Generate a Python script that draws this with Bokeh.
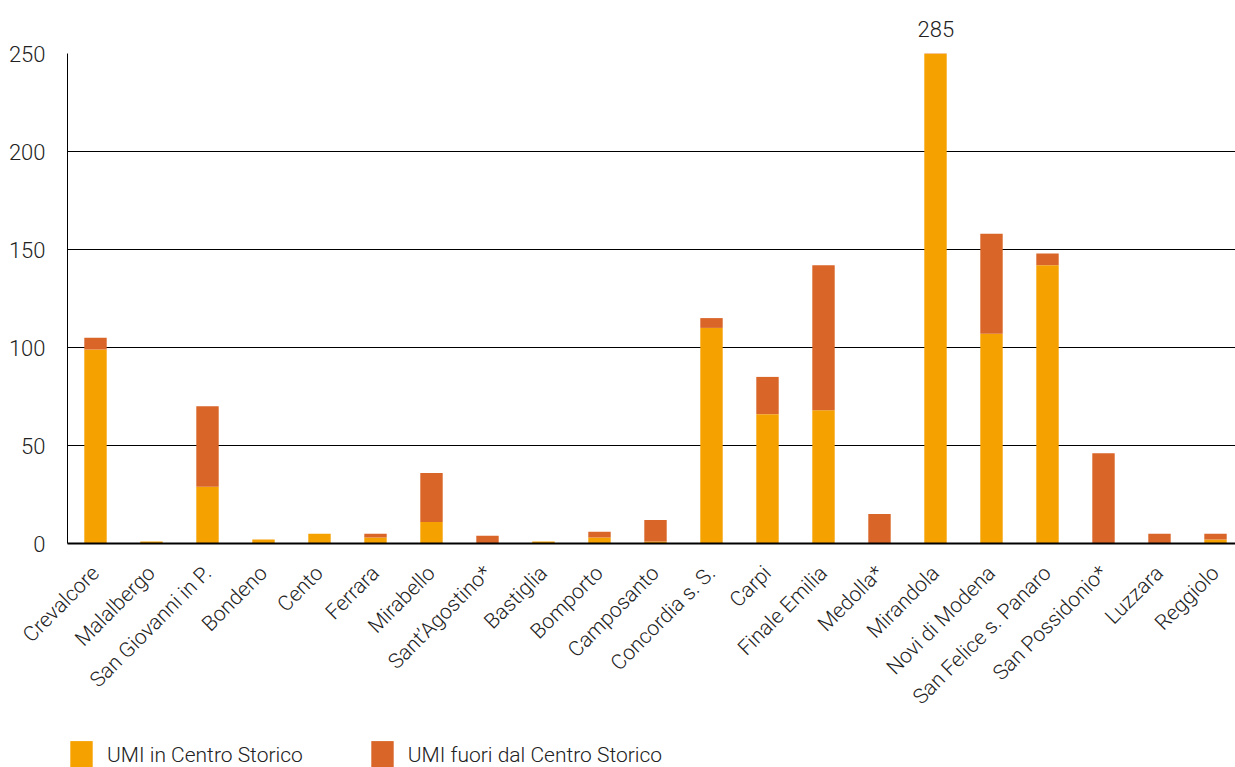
import math
from bokeh.plotting import figure
from bokeh.layouts import column
from bokeh.models import Range1d, FixedTicker, Title, Legend, LegendItem, ColumnDataSource
from bokeh.embed import file_html
from bokeh.resources import INLINE

comuni = ["Crevalcore", "Malalbergo", "San Giovanni in P.", "Bondeno", "Cento",
          "Ferrara", "Mirabello", "Sant\u2019Agostino*", "Bastiglia", "Bomporto",
          "Camposanto", "Concordia s. S.", "Carpi", "Finale Emilia", "Medolla*",
          "Mirandola", "Novi di Modena", "San Felice s. Panaro", "San Possidonio*",
          "Luzzara", "Reggiolo"]
umi_in = [99, 1, 29, 2, 5, 3, 11, 0, 1, 3, 1, 110, 66, 68, 0, 285, 107, 142, 0, 0, 2]
umi_fuori = [6, 0, 41, 0, 0, 2, 25, 4, 0, 3, 11, 5, 19, 74, 15, 0, 51, 6, 46, 5, 3]
y_ticks = [0, 50, 100, 150, 200, 250]
serie = ["UMI in Centro Storico", "UMI fuori dal Centro Storico"]
colori = ["#F5A100", "#D96528"]

FONT = "Roboto Light"
TXT = "#222222"

pos = list(range(len(comuni)))
src = ColumnDataSource(dict(x=pos, umi_in=umi_in, umi_fuori=umi_fuori))

p = figure(width=1235, height=737,
           x_range=Range1d(-0.5, -0.5 + 1168 / 56.0), y_range=Range1d(0, 250),
           output_backend="svg", toolbar_location=None,
           min_border_left=67, min_border_right=0, min_border_top=53, min_border_bottom=194)
p.outline_line_color = None
p.background_fill_color = "white"
p.border_fill_color = "white"

p.vbar_stack(["umi_in", "umi_fuori"], x="x", width=0.4, source=src,
             color=colori, line_color=None)

# y axis
p.yaxis.ticker = FixedTicker(ticks=y_ticks)
p.yaxis.axis_line_color = "black"
p.yaxis.axis_line_width = 1
p.yaxis.major_tick_line_color = None
p.yaxis.minor_tick_line_color = None
p.yaxis.major_tick_out = 0
p.yaxis.major_tick_in = 0
p.yaxis.major_label_standoff = 22
p.yaxis.major_label_text_font = FONT
p.yaxis.major_label_text_font_size = "22px"
p.yaxis.major_label_text_color = TXT

p.ygrid.ticker = FixedTicker(ticks=y_ticks)
p.ygrid.grid_line_color = "black"
p.ygrid.grid_line_width = 1
p.xgrid.grid_line_color = None

# x axis
p.xaxis.ticker = FixedTicker(ticks=pos)
p.xaxis.major_label_overrides = {i: c for i, c in zip(pos, comuni)}
p.xaxis.axis_line_color = "black"
p.xaxis.axis_line_width = 2
p.xaxis.major_tick_line_color = None
p.xaxis.minor_tick_line_color = None
p.xaxis.major_tick_out = 0
p.xaxis.major_tick_in = 0
p.xaxis.major_label_orientation = math.pi / 4
p.xaxis.major_label_standoff = 26
p.xaxis.major_label_text_font = FONT
p.xaxis.major_label_text_font_size = "21px"
p.xaxis.major_label_text_color = TXT

# value above the clipped bar (Mirandola)
imax = umi_in.index(max(umi_in))
p.add_layout(Title(text=str(umi_in[imax] + umi_fuori[imax]), align="left",
                   offset=imax * 56 + 28 - 18, standoff=34,
                   text_font=FONT, text_font_size="22px", text_font_style="normal",
                   text_color=TXT), "above")

# legend strip below the chart
lg = figure(width=1235, height=30, x_range=Range1d(0, 1), y_range=Range1d(0, 1),
            output_backend="svg", toolbar_location=None,
            x_axis_type=None, y_axis_type=None,
            min_border_left=0, min_border_right=0, min_border_top=0, min_border_bottom=0)
lg.outline_line_color = None
lg.xgrid.grid_line_color = None
lg.ygrid.grid_line_color = None
swatch_src = ColumnDataSource(dict(x=[0], top=[0]))  # zero-height: only the legend swatch shows
sw = [lg.vbar(x="x", top="top", width=0.1, source=swatch_src, color=c, line_color=None)
      for c in colori]
legend = Legend(items=[LegendItem(label=s, renderers=[r]) for s, r in zip(serie, sw)],
                location=(0, -6), orientation="horizontal",
                glyph_width=28, glyph_height=36, label_standoff=12, spacing=65,
                padding=0, margin=0, border_line_color=None, background_fill_alpha=0,
                label_text_font=FONT, label_text_font_size="21px", label_text_color=TXT)
lg.add_layout(legend)

page = column(p, lg, spacing=0)
open("out.html", "w").write(file_html(page, INLINE))
